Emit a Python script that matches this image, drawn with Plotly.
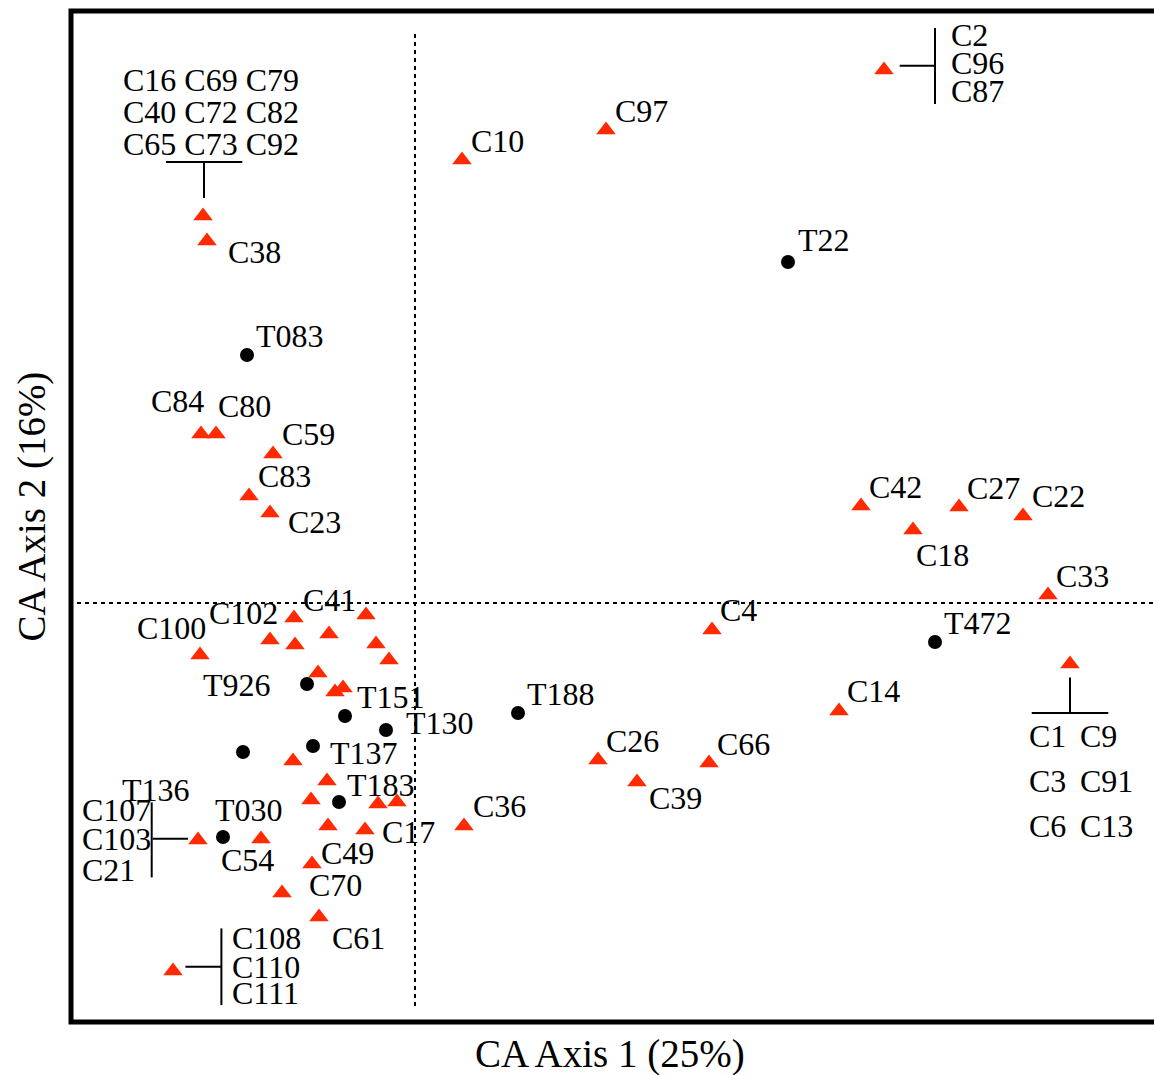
import plotly.graph_objects as go

# ---------------- data (CA scores) ----------------
axis1_title = "CA Axis 1 (25%)"
axis2_title = "CA Axis 2 (16%)"

# column scores (triangles); "" = unlabelled point
site_names = ["C38", "C84", "C80", "C59", "C83", "C23", "C10", "C97", "C42", "C27",
              "C22", "C18", "C33", "C14", "C4", "C26", "C39", "C66", "C36", "C100",
              "C41", "", "C102", "", "", "", "", "", "", "",
              "", "", "", "", "", "", "C17", "C54", "C49", "C70", "C61"]
site_x = [-2.08, -2.14, -1.99, -1.42, -1.66, -1.45, 0.47, 1.91, 4.46, 5.44,
          6.08, 4.98, 6.33, 4.24, 2.97, 1.83, 2.22, 2.94, 0.49, -2.15,
          -1.21, -0.49, -1.45, -1.20, -0.86, -0.39, -0.26, -0.97, -0.80, -0.72,
          -1.22, -0.88, -1.04, -0.37, -0.18, -0.87, -0.50, -1.54, -1.03, -1.33, -0.96]
site_y = [3.62, 1.69, 1.69, 1.49, 1.07, 0.90, 4.43, 4.73, 0.97, 0.96,
          0.87, 0.73, 0.08, -1.08, -0.27, -1.57, -1.79, -1.60, -2.23, -0.52,
          -0.15, -0.12, -0.37, -0.42, -0.31, -0.41, -0.57, -0.70, -0.89, -0.85,
          -1.58, -1.78, -1.97, -2.01, -1.99, -2.23, -2.27, -2.36, -2.61, -2.90, -3.14]

# coincident column scores shown as one triangle
group_members = {
    "A": ["C16", "C69", "C79", "C40", "C72", "C82", "C65", "C73", "C92"],
    "B": ["C2", "C96", "C87"],
    "C": ["C1", "C9", "C3", "C91", "C6", "C13"],
    "D": ["C107", "C103", "C21"],
    "E": ["C108", "C110", "C111"],
}
group_x = {"A": -2.12, "B": 4.69, "C": 6.55, "D": -2.17, "E": -2.42}
group_y = {"A": 3.87, "B": 5.33, "C": -0.61, "D": -2.37, "E": -3.68}

# row scores (circles)
obj_names = ["T083", "T22", "T472", "T188", "T926", "T151", "T130", "T137", "T136", "T183", "T030"]
obj_x = [-1.68, 3.73, 5.20, 1.03, -1.08, -0.70, -0.29, -1.02, -1.72, -0.76, -1.92]
obj_y = [2.48, 3.41, -0.39, -1.10, -0.81, -1.13, -1.27, -1.43, -1.49, -1.99, -2.34]

# ---------------- label placement (pixel offsets, style only) ----------------
label_off = {
    "C38": (19, 10.8), "T083": (6.6, -19.2), "C84": (-51.7, -32.6), "C80": (-0.3, -27.6),
    "C59": (6.7, -20.3), "C83": (7, -20.2), "C23": (15.7, 8.8), "C10": (6.6, -18.6),
    "C97": (6.6, -18.9), "T22": (8.3, -21.7), "C42": (6, -19.2), "C27": (6.4, -19.2),
    "C22": (6.7, -19.6), "C18": (0.6, 24.7), "C33": (6, -19.3), "T472": (6.7, -19.4),
    "C14": (6.4, -20.2), "C4": (6, -19.6), "T188": (6.7, -19.4), "C26": (6, -18.9),
    "C39": (10, 16.4), "C66": (6.4, -19.3), "C36": (6.7, -20.3), "C100": (-65, -27),
    "C41": (7.4, -17.6), "C102": (-63.3, -27), "T926": (-105.6, 0.7), "T151": (10, -19),
    "T130": (17.6, -6.7), "T137": (15, 6.6), "T136": (-123.3, 37.7), "T183": (5.7, -16.7),
    "T030": (-10, -26.7), "C54": (-41.7, 20.7), "C17": (15, 2.1), "C49": (6.6, -11),
    "C70": (25, -7.6), "C61": (11.4, 21.4),
}
group_layout = {
    "A": dict(per_row=3, col_dx=[-82], row_dy=[-135.6, -103.9, -72.3],
              segs=[(-37, -53.9, 39.3, -53.9), (1, -53.9, 1, -17.9)]),
    "B": dict(per_row=1, col_dx=[65], row_dy=[-35.3, -7, 21.4],
              segs=[(15.7, -4.3, 51.7, -4.3), (51, -42, 51, 34)]),
    "C": dict(per_row=2, col_dx=[-43.3, 7.7], row_dy=[72.4, 117.4, 162.4],
              segs=[(0, 13.4, 0, 49), (-38.3, 49, 38.3, 49)]),
    "D": dict(per_row=1, col_dx=[-118.3], row_dy=[-29.6, -1.3, 30.4],
              segs=[(-46.3, -37.6, -46.3, 37.4), (-45.3, -1.3, -10, -1.3)]),
    "E": dict(per_row=1, col_dx=[56.7], row_dy=[-32.6, -4.2, 22.4],
              segs=[(48.4, -42.6, 48.4, 34.1), (12.4, -4.2, 48.4, -4.2)]),
}

FONT = "Liberation Serif, Times New Roman, serif"
RED = "#FF2A00"
LBL = 32

fig = go.Figure()

gk = list(group_members.keys())
fig.add_trace(go.Scatter(
    x=site_x + [group_x[k] for k in gk], y=site_y + [group_y[k] for k in gk],
    mode="markers", marker=dict(symbol="triangle-up", size=17, color=RED, line=dict(width=0)),
    hoverinfo="skip", showlegend=False, cliponaxis=False))
fig.add_trace(go.Scatter(
    x=obj_x, y=obj_y, mode="markers",
    marker=dict(symbol="circle", size=14, color="black", line=dict(width=0)),
    hoverinfo="skip", showlegend=False, cliponaxis=False))

annotations = []


def add_label(text, x, y, dx, dy):
    annotations.append(dict(x=x, y=y, xref="x", yref="y", text=text, showarrow=False,
                            xanchor="left", yanchor="middle", xshift=dx, yshift=-dy,
                            font=dict(family=FONT, size=LBL, color="black")))


for n, x, y in zip(site_names, site_x, site_y):
    if n and n in label_off:
        add_label(n, x, y, *label_off[n])
for n, x, y in zip(obj_names, obj_x, obj_y):
    if n in label_off:
        add_label(n, x, y, *label_off[n])

shapes = []
for k in gk:
    lay = group_layout[k]
    mem = group_members[k]
    per = lay["per_row"]
    rows = [mem[i:i + per] for i in range(0, len(mem), per)]
    for r, row in enumerate(rows):
        if len(lay["col_dx"]) == 1:
            add_label(" ".join(row), group_x[k], group_y[k], lay["col_dx"][0], lay["row_dy"][r])
        else:
            for c, t in enumerate(row):
                add_label(t, group_x[k], group_y[k], lay["col_dx"][c], lay["row_dy"][r])
    for (x0, y0, x1, y1) in lay["segs"]:
        shapes.append(dict(type="line", xref="x", yref="y",
                           xsizemode="pixel", ysizemode="pixel",
                           xanchor=group_x[k], yanchor=group_y[k],
                           x0=x0, x1=x1, y0=-y0, y1=-y1,
                           line=dict(color="black", width=2)))

# dotted zero lines
shapes.append(dict(type="line", xref="x", yref="y", x0=0, x1=0, y0=-4.03, y1=5.71,
                   line=dict(color="black", width=2, dash="4px,4px"), layer="below"))
shapes.append(dict(type="line", xref="x", yref="y", x0=-3.38, x1=7.6, y0=0, y1=0,
                   line=dict(color="black", width=2, dash="4px,4px"), layer="below"))
# open frame (left, top, bottom)
shapes.append(dict(type="path", xref="paper", yref="paper",
                   path="M 1.05,1 L 0,1 L 0,0 L 1.05,0",
                   line=dict(color="black", width=5)))

# axis titles
annotations.append(dict(x=0.498, y=-0.032, xref="paper", yref="paper", text=axis1_title,
                        showarrow=False, xanchor="center", yanchor="middle",
                        font=dict(family=FONT, size=39, color="black")))
annotations.append(dict(x=-0.036, y=0.51, xref="paper", yref="paper", text=axis2_title,
                        showarrow=False, xanchor="center", yanchor="middle", textangle=-90,
                        font=dict(family=FONT, size=39, color="black")))

fig.update_layout(
    width=1154, height=1075,
    margin=dict(l=71, r=0, t=11, b=53),
    paper_bgcolor="white", plot_bgcolor="white",
    xaxis=dict(range=[-3.44, 7.39], showgrid=False, zeroline=False, showticklabels=False,
               ticks="", showline=False, fixedrange=True),
    yaxis=dict(range=[-4.19, 5.92], showgrid=False, zeroline=False, showticklabels=False,
               ticks="", showline=False, fixedrange=True),
    shapes=shapes, annotations=annotations, showlegend=False,
)

# remove the default 8px page margin so the figure fills the window exactly
fig.write_html("out.html", config={"displayModeBar": False},
               post_script="document.body.style.margin='0';document.body.style.overflow='hidden';")
